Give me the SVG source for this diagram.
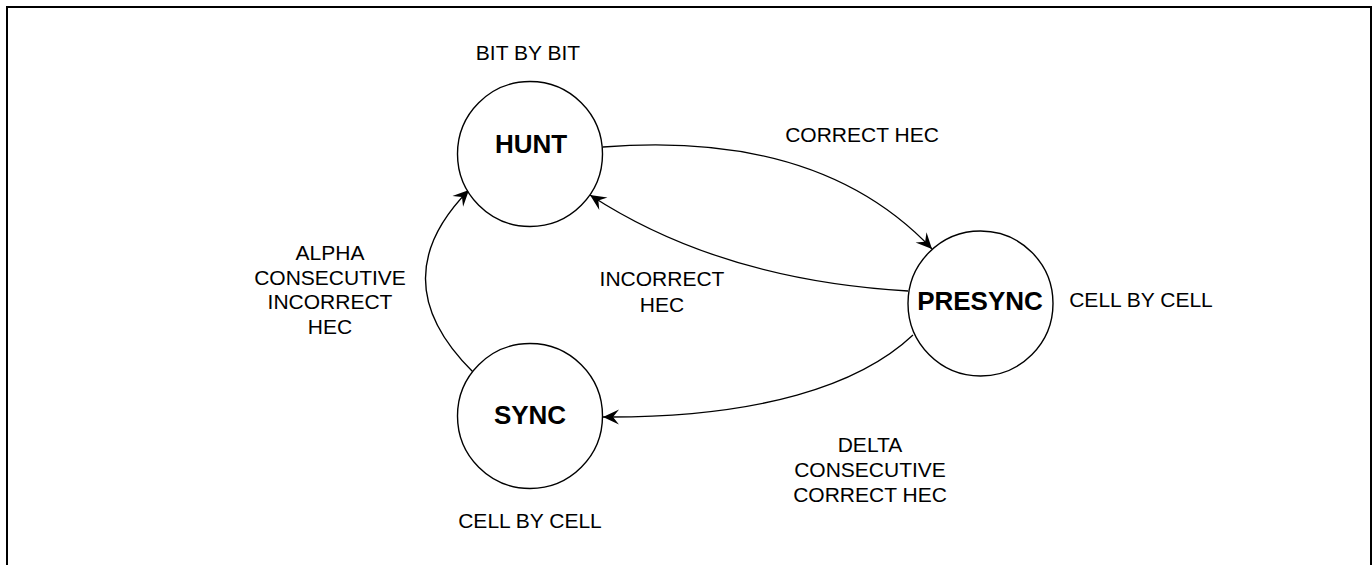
<svg xmlns="http://www.w3.org/2000/svg" width="1372" height="565" viewBox="0 0 1372 565">
<style>
.state{fill:#fff;stroke:#000;stroke-width:1.4}
.name{font-family:"Liberation Sans",Arial,sans-serif;font-weight:bold;font-size:26px;text-anchor:middle;fill:#000}
.lbl{font-family:"Liberation Sans",Arial,sans-serif;font-size:21px;text-anchor:middle;fill:#000}
.edge{fill:none;stroke:#000;stroke-width:1.3;marker-end:url(#arr)}
</style>
<defs>
<marker id="arr" markerUnits="userSpaceOnUse" markerWidth="18" markerHeight="18" viewBox="-17 -9 18 18" refX="0" refY="0" orient="auto">
<path d="M0,0 L-16,-7.5 L-10,0 L-16,7.5 Z" fill="#000"/>
</marker>
</defs>
<rect x="0" y="0" width="1372" height="565" fill="#fff"/>
<rect x="7" y="7" width="1364" height="620" fill="none" stroke="#000" stroke-width="2"/>
<g id="connectors">
<path class="edge" d="M603,147 Q820,130 932,249"/>
<path class="edge" d="M908,291 Q720,280 590,195"/>
<path class="edge" d="M913,335 C860,385 760,418 603,417"/>
<path class="edge" d="M473,372 Q380,280 469,190"/>
</g>
<g id="hunt">
<circle class="state" cx="530" cy="154" r="72.5"/>
<text class="name" x="531" y="153">HUNT</text>
<text class="lbl" x="528" y="60">BIT BY BIT</text>
</g>
<g id="presync">
<circle class="state" cx="980.5" cy="303.5" r="72.5"/>
<text class="name" x="980" y="310">PRESYNC</text>
<text class="lbl" x="1141" y="307">CELL BY CELL</text>
</g>
<g id="sync">
<circle class="state" cx="530" cy="416" r="72.5"/>
<text class="name" x="530" y="424">SYNC</text>
<text class="lbl" x="530" y="528">CELL BY CELL</text>
</g>
<g id="labels">
<text class="lbl" x="862" y="142">CORRECT HEC</text>
<text class="lbl" x="662" y="286">INCORRECT</text>
<text class="lbl" x="662" y="312">HEC</text>
<text class="lbl" x="330" y="260">ALPHA</text>
<text class="lbl" x="330" y="285">CONSECUTIVE</text>
<text class="lbl" x="330" y="309">INCORRECT</text>
<text class="lbl" x="330" y="334">HEC</text>
<text class="lbl" x="870" y="452">DELTA</text>
<text class="lbl" x="870" y="477">CONSECUTIVE</text>
<text class="lbl" x="870" y="502">CORRECT HEC</text>
</g>
</svg>
